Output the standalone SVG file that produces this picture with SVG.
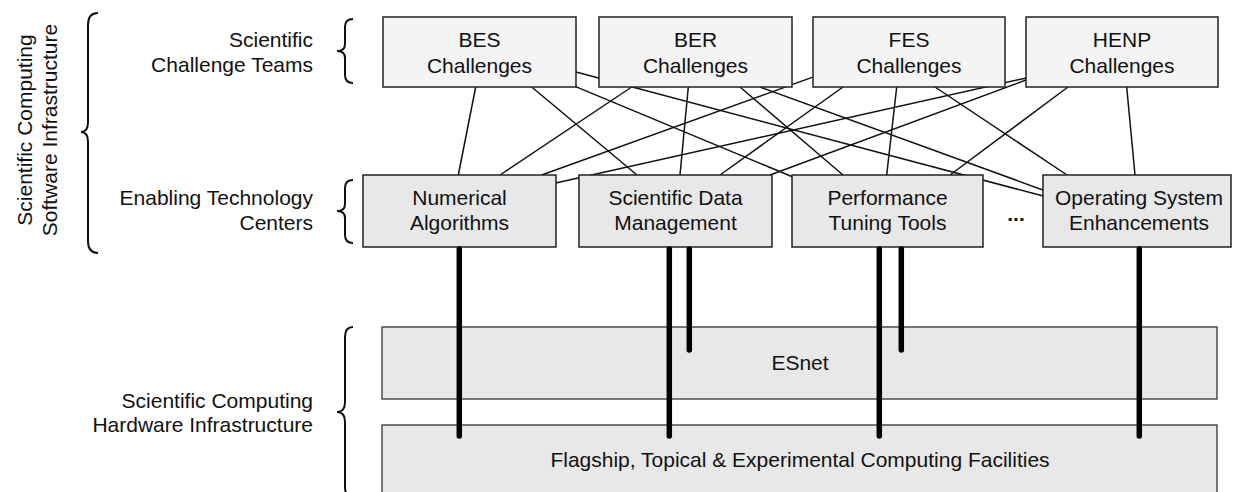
<svg xmlns="http://www.w3.org/2000/svg" width="1233" height="492" viewBox="0 0 1233 492">
<style>
text{font-family:"Liberation Sans",Arial,sans-serif;font-size:21px;fill:#111}
.c{text-anchor:middle}
.r{text-anchor:end}
.top{fill:#f4f4f4;stroke:#222;stroke-width:1.5}
.mid{fill:#e8e8e8;stroke:#222;stroke-width:1.5}
.bot{fill:#e8e8e8;stroke:#333;stroke-width:1.3}
.thin line{stroke:#111;stroke-width:1.5}
.thick line{stroke:#000;stroke-width:5.5;stroke-linecap:round}
.brace{fill:none;stroke:#111;stroke-width:2}
</style>
<rect width="1233" height="492" fill="#fff"/>
<g id="labels">
<text transform="translate(32,130) rotate(-90)" class="c">Scientific Computing</text>
<text transform="translate(57,130) rotate(-90)" class="c">Software Infrastructure</text>
<path class="brace" d="M98,13 Q88,13 88,25 L88,122 Q88,132 81,132 Q88,132 88,142 L88,241 Q88,253 98,253"/>
<text x="313" y="47" class="r">Scientific</text>
<text x="313" y="72" class="r">Challenge Teams</text>
<path class="brace" d="M353,19 Q345,19 345,27 L345,44 Q345,51 337,51 Q345,51 345,58 L345,75 Q345,83 353,83"/>
<text x="313" y="205" class="r">Enabling Technology</text>
<text x="313" y="230" class="r">Centers</text>
<path class="brace" d="M353,180 Q345,180 345,188 L345,204 Q345,211 337,211 Q345,211 345,218 L345,235 Q345,243 353,243"/>
<text x="313" y="408" class="r">Scientific Computing</text>
<text x="313" y="432" class="r">Hardware Infrastructure</text>
<path class="brace" d="M353,327 Q345,327 345,337 L345,402 Q345,412 337,412 Q345,412 345,422 L345,487 Q345,497 353,497"/>
</g>
<g id="connectors" class="thin">
<line x1="475.7" y1="87" x2="458.3" y2="175"/>
<line x1="531.7" y1="87" x2="637" y2="175"/>
<line x1="560" y1="80.1" x2="800" y2="180"/>
<line x1="560" y1="67.8" x2="1060" y2="200.5"/>
<line x1="631.7" y1="87" x2="500" y2="175"/>
<line x1="688.3" y1="87" x2="680" y2="175"/>
<line x1="740" y1="87" x2="843" y2="175"/>
<line x1="760" y1="87" x2="1060" y2="196.2"/>
<line x1="830" y1="70.9" x2="541.7" y2="175"/>
<line x1="843" y1="87" x2="720" y2="175"/>
<line x1="896.7" y1="87" x2="886.7" y2="175"/>
<line x1="935" y1="87" x2="1067" y2="175"/>
<line x1="1040" y1="74.9" x2="555.7" y2="183"/>
<line x1="1040" y1="74.8" x2="770" y2="175"/>
<line x1="1068" y1="87" x2="950" y2="175"/>
<line x1="1126.7" y1="87" x2="1135" y2="175"/>
</g>
<g id="bes"><rect class="top" x="383" y="17" width="193" height="70"/><text x="479.5" y="47" class="c">BES</text><text x="479.5" y="73" class="c">Challenges</text></g>
<g id="ber"><rect class="top" x="599" y="17" width="193" height="70"/><text x="695.5" y="47" class="c">BER</text><text x="695.5" y="73" class="c">Challenges</text></g>
<g id="fes"><rect class="top" x="813" y="17" width="192" height="70"/><text x="909" y="47" class="c">FES</text><text x="909" y="73" class="c">Challenges</text></g>
<g id="henp"><rect class="top" x="1026" y="17" width="192" height="70"/><text x="1122" y="47" class="c">HENP</text><text x="1122" y="73" class="c">Challenges</text></g>
<g id="na"><rect class="mid" x="363" y="175" width="193" height="72"/><text x="459.5" y="205" class="c">Numerical</text><text x="459.5" y="230" class="c">Algorithms</text></g>
<g id="sdm"><rect class="mid" x="579" y="175" width="193" height="72"/><text x="675.5" y="205" class="c">Scientific Data</text><text x="675.5" y="230" class="c">Management</text></g>
<g id="ptt"><rect class="mid" x="792" y="175" width="191" height="72"/><text x="887.5" y="205" class="c">Performance</text><text x="887.5" y="230" class="c">Tuning Tools</text></g>
<g id="ellipsis"><text x="1016" y="221" class="c" font-weight="bold">...</text></g>
<g id="ose"><rect class="mid" x="1043" y="175" width="188" height="72"/><text x="1139" y="205" class="c">Operating System</text><text x="1139" y="230" class="c">Enhancements</text></g>
<g id="esnet"><rect class="bot" x="382" y="327" width="835" height="72"/><text x="800" y="370" class="c">ESnet</text></g>
<g id="facilities"><rect class="bot" x="382" y="425" width="835" height="80"/><text x="800" y="467" class="c">Flagship, Topical &amp; Experimental Computing Facilities</text></g>
<g id="links" class="thick">
<line x1="459.3" y1="249" x2="459.3" y2="436"/>
<line x1="669.3" y1="249" x2="669.3" y2="436"/>
<line x1="689.3" y1="249" x2="689.3" y2="350"/>
<line x1="879.3" y1="249" x2="879.3" y2="436"/>
<line x1="901.3" y1="249" x2="901.3" y2="350"/>
<line x1="1139.3" y1="249" x2="1139.3" y2="436"/>
</g>
</svg>
